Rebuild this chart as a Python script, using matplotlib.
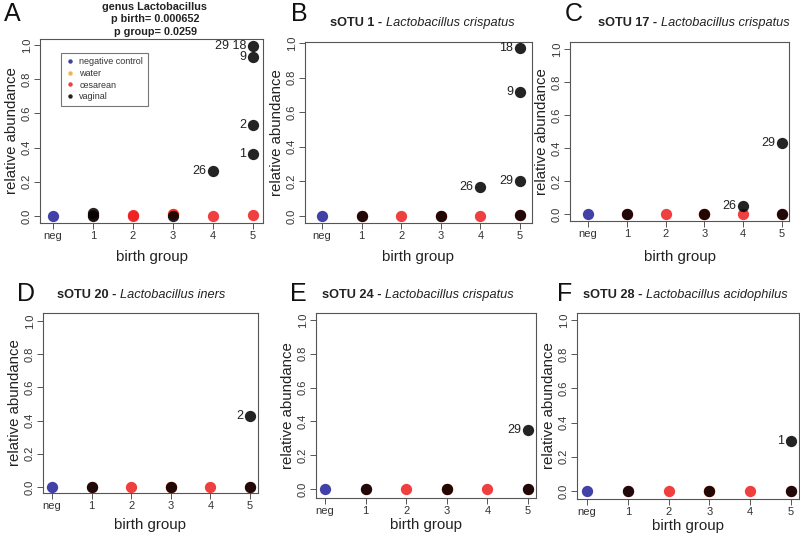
import matplotlib
matplotlib.use("Agg")
import matplotlib.pyplot as plt
from matplotlib.lines import Line2D

plt.rcParams['font.family'] = ['Liberation Sans', 'DejaVu Sans']

W, H = 800, 534
fig = plt.figure(figsize=(8, 5.34), dpi=100)

groups = ['neg', '1', '2', '3', '4', '5']
group_pos = [0, 1, 2, 3, 4, 5]
legend_labels = ['negative control', 'water', 'cesarean', 'vaginal']

panel_letters = ['A', 'B', 'C', 'D', 'E', 'F']
panel_bold = ['', 'sOTU 1 - ', 'sOTU 17 - ', 'sOTU 20 - ', 'sOTU 24 - ', 'sOTU 28 - ']
panel_italic = ['', 'Lactobacillus crispatus', 'Lactobacillus crispatus',
                'Lactobacillus iners', 'Lactobacillus crispatus', 'Lactobacillus acidophilus']
panelA_title = 'genus Lactobacillus\np birth= 0.000652\np group= 0.0259'

# ---- data (x = birth group position, 0 = neg) ----
neg_x = [0]
neg_y = [0.0]

A_water_x = [3]
A_water_y = [0.014]
A_ces_x = [1, 2, 2, 3, 4, 5]
A_ces_y = [0.005, 0.008, 0.0, 0.01, 0.0, 0.006]
A_vag_x = [1, 1, 3, 4, 5, 5, 5, 5]
A_vag_y = [0.0, 0.016, 0.0, 0.265, 0.994, 0.932, 0.530, 0.361]
A_vag_lab = ['', '', '', '26', '29 18', '9', '2', '1']

B_water_x = [3]
B_water_y = [0.0]
B_ces_x = [1, 2, 3, 4, 5]
B_ces_y = [0.002, 0.0, 0.0, 0.0, 0.003]
B_vag_x = [1, 3, 4, 5, 5, 5, 5]
B_vag_y = [0.0, 0.0, 0.166, 0.971, 0.714, 0.203, 0.003]
B_vag_lab = ['', '', '26', '18', '9', '29', '']

C_water_x = [3]
C_water_y = [0.002]
C_ces_x = [1, 2, 3, 4, 5]
C_ces_y = [0.0, 0.0, 0.002, 0.0, 0.0]
C_vag_x = [1, 3, 4, 5, 5]
C_vag_y = [0.0, 0.0, 0.051, 0.429, 0.0]
C_vag_lab = ['', '', '26', '29', '']

D_water_x = [3]
D_water_y = [0.0]
D_ces_x = [1, 2, 3, 4, 5]
D_ces_y = [0.0, 0.0, 0.0, 0.002, 0.0]
D_vag_x = [1, 3, 5, 5]
D_vag_y = [0.0, 0.0, 0.43, 0.0]
D_vag_lab = ['', '', '2', '']

E_water_x = [3]
E_water_y = [0.0]
E_ces_x = [1, 2, 3, 4, 5]
E_ces_y = [0.0, 0.0, 0.0, 0.0, 0.0]
E_vag_x = [1, 3, 5, 5]
E_vag_y = [0.0, 0.0, 0.350, 0.0]
E_vag_lab = ['', '', '29', '']

F_water_x = [3]
F_water_y = [0.0]
F_ces_x = [1, 2, 3, 4, 5]
F_ces_y = [0.0, 0.0, 0.0, 0.0, 0.0]
F_vag_x = [1, 3, 5, 5]
F_vag_y = [0.0, 0.0, 0.292, 0.0]
F_vag_lab = ['', '', '1', '']

water_x = [A_water_x, B_water_x, C_water_x, D_water_x, E_water_x, F_water_x]
water_y = [A_water_y, B_water_y, C_water_y, D_water_y, E_water_y, F_water_y]
ces_x = [A_ces_x, B_ces_x, C_ces_x, D_ces_x, E_ces_x, F_ces_x]
ces_y = [A_ces_y, B_ces_y, C_ces_y, D_ces_y, E_ces_y, F_ces_y]
vag_x = [A_vag_x, B_vag_x, C_vag_x, D_vag_x, E_vag_x, F_vag_x]
vag_y = [A_vag_y, B_vag_y, C_vag_y, D_vag_y, E_vag_y, F_vag_y]
vag_lab = [A_vag_lab, B_vag_lab, C_vag_lab, D_vag_lab, E_vag_lab, F_vag_lab]

# ---- styling / layout (pixels) ----
col_neg = '#22229a'
col_water = '#f2a833'
col_ces = '#ee1f1f'
col_vag = '#000000'
alpha = 0.86
msize = 66

# box (l, t, r, b), x of 'neg' tick, x of '5' tick, y of 1.0 tick, y of 0.0 tick
layout = [
    (40, 39, 263, 223, 53, 253, 45, 216),
    (305, 42, 532, 223, 322, 520, 43, 216),
    (570, 42, 789, 221, 588, 782, 49, 214),
    (43, 313, 258, 493, 52, 250, 321, 487),
    (316, 313, 536, 498, 325, 528, 320, 489),
    (577, 313, 799, 499, 587, 791, 320, 491),
]
xlabel_pad = [6, 6, 8, 4.5, 1, 1]
letter_pos = [(4, 2), (291, 2), (565, 2), (17, 282), (290, 282), (557, 282)]
title_pos = [None, (330, 23), (598, 23), (57, 295), (322, 295), (583, 295)]

spine_col = '#555555'
tick_col = '#333333'

for i in range(6):
    l, t, r, b, x0, x5, y1, y0 = layout[i]
    ax = fig.add_axes([l / W, 1 - b / H, (r - l) / W, (b - t) / H])
    ux = (x5 - x0) / 5.0
    uy = (y0 - y1) / 1.0
    ax.set_xlim((l - x0) / ux, (r - x0) / ux)
    ax.set_ylim((y0 - b) / uy, (y0 - t) / uy)

    ax.scatter(water_x[i], water_y[i], s=msize, color=col_water, alpha=alpha, linewidths=0, zorder=2)
    ax.scatter(ces_x[i], ces_y[i], s=msize, color=col_ces, alpha=alpha, linewidths=0, zorder=3)
    ax.scatter(vag_x[i], vag_y[i], s=msize, color=col_vag, alpha=alpha, linewidths=0, zorder=4)
    ax.scatter(neg_x, neg_y, s=msize, color=col_neg, alpha=alpha, linewidths=0, zorder=5)
    for xx, yy, lab in zip(vag_x[i], vag_y[i], vag_lab[i]):
        if lab:
            ax.annotate(lab, (xx, yy), xytext=(-7, 0), textcoords='offset pixels',
                        ha='right', va='center', fontsize=9, color='#222222')

    ax.set_xticks(group_pos)
    ax.set_xticklabels(groups)
    ax.set_yticks([0, 0.2, 0.4, 0.6, 0.8, 1.0])
    ax.set_yticklabels(['0.0', '0.2', '0.4', '0.6', '0.8', '1.0'], rotation=90, va='center')
    ax.tick_params(axis='both', direction='out', length=4, width=0.7, color=spine_col,
                   labelsize=8, labelcolor=tick_col, pad=2)
    for s in ax.spines.values():
        s.set_color(spine_col)
        s.set_linewidth(0.8)
    ax.set_xlabel('birth group', fontsize=10.8, color='#222222', labelpad=xlabel_pad[i])
    ax.set_ylabel('relative abundance', fontsize=10.8, color='#222222', labelpad=2)

    lx, ly = letter_pos[i]
    fig.text(lx / W, 1 - ly / H, panel_letters[i], fontsize=18, ha='left', va='top', color='#111111')

    if i == 0:
        fig.text(155 / W, 1 - 2 / H, panelA_title, fontsize=7.8, fontweight='bold',
                 ha='center', va='top', linespacing=1.3, color='#222222')
        handles = [Line2D([], [], marker='o', linestyle='none', markersize=3.2,
                          markerfacecolor=c, markeredgewidth=0, alpha=alpha)
                   for c in [col_neg, col_water, col_ces, col_vag]]
        leg = ax.legend(handles, legend_labels, loc='upper left', bbox_to_anchor=(0.075, 0.95),
                        fontsize=6.5, frameon=True, fancybox=False, handlelength=1.0,
                        handletextpad=0.5, borderpad=0.5, labelspacing=0.3)
        leg.get_frame().set_edgecolor('#555555')
        leg.get_frame().set_linewidth(0.8)
        for txt in leg.get_texts():
            txt.set_color('#333333')
    else:
        tx, ty = title_pos[i]
        t1 = fig.text(tx / W, 1 - ty / H, panel_bold[i], fontsize=9.2, fontweight='bold',
                      ha='left', va='center', color='#222222')
        ax.annotate(panel_italic[i], xy=(1, 0), xycoords=t1, ha='left', va='bottom',
                    fontsize=9.2, style='italic', color='#222222', annotation_clip=False)

fig.savefig('out.png', dpi=100)
